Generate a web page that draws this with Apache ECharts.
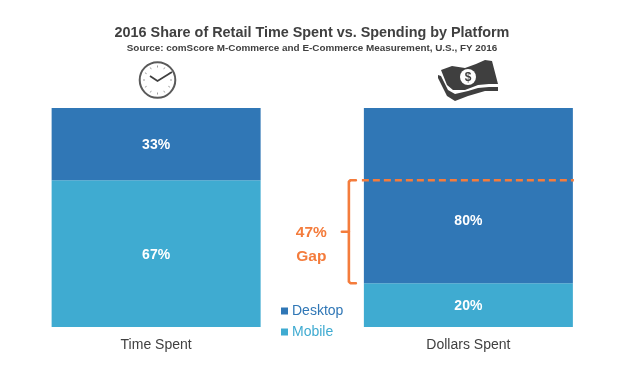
<!DOCTYPE html>
<html><head><meta charset="utf-8">
<style>html,body{margin:0;padding:0;background:#fff}#c{width:630px;height:377px}</style>
<script src="https://cdn.jsdelivr.net/npm/echarts@6/dist/echarts.min.js"></script>
</head><body><div id="c"></div>
<script>
const categories = ['Time Spent', 'Dollars Spent'];
const mobile = [67, 20];
const desktop = [33, 80];
const gapRange = [20, 67];
const gapLabel = ['47%', 'Gap'];
const titleText = '2016 Share of Retail Time Spent vs. Spending by Platform';
const subtitleText = 'Source: comScore M-Commerce and E-Commerce Measurement, U.S., FY 2016';

const ORANGE = '#F47C3C', DARK = '#404040', FF = '"Liberation Sans", Arial, sans-serif';
const chart = echarts.init(document.getElementById('c'), null, {renderer: 'canvas'});

function clockTicks(cx, cy) {
  const out = [];
  for (let i = 0; i < 12; i++) {
    const a = i * Math.PI / 6;
    out.push({type: 'line', shape: {
      x1: cx + Math.sin(a) * 12.5, y1: cy - Math.cos(a) * 12.5,
      x2: cx + Math.sin(a) * 14.5, y2: cy - Math.cos(a) * 14.5},
      style: {stroke: '#888', lineWidth: 0.8}});
  }
  return out;
}

const barLabel = {show: true, position: 'inside', offset: [0, 1.5], color: '#fff', fontFamily: FF, fontWeight: 'bold', fontSize: 14, formatter: '{c}%'};
const desktopData = desktop.map((v, i) => i === 1 ? {value: v, label: {offset: [0, 26]}} : v);

chart.setOption({
  animation: false,
  backgroundColor: '#fff',
  title: [
    {text: titleText, left: 307, textAlign: 'center', top: 21, textStyle: {fontFamily: FF, fontWeight: 'bold', fontSize: 14.4, color: DARK}},
    {text: subtitleText, left: 307, textAlign: 'center', top: 38, textStyle: {fontFamily: FF, fontWeight: 'bold', fontSize: 9.9, color: DARK}}
  ],
  grid: {left: -0.5, width: 625, top: 108, height: 219, containLabel: false},
  xAxis: {type: 'category', data: categories,
    axisLine: {show: false}, axisTick: {show: false},
    axisLabel: {color: DARK, fontFamily: FF, fontSize: 14, margin: 11}},
  yAxis: {type: 'value', min: 0, max: 100, show: false},
  legend: {
    data: ['Desktop', 'Mobile'], orient: 'vertical', left: 276, top: 299,
    itemWidth: 7, itemHeight: 7, itemGap: 7, icon: 'rect',
    selectedMode: false,
    textStyle: {fontFamily: FF, fontSize: 14, padding: [0, 0, 0, -1], color: 'inherit'}
  },
  series: [
    {name: 'Mobile', type: 'bar', stack: 'a', barWidth: 209, data: mobile,
      itemStyle: {color: '#3FABD1'}, label: barLabel},
    {name: 'Desktop', type: 'bar', stack: 'a', barWidth: 209, data: desktopData,
      itemStyle: {color: '#3077B6'}, label: barLabel},
    {name: 'gap', type: 'custom', silent: true, z: 5, clip: false,
      data: [[1, gapRange[0], gapRange[1]]],
      renderItem(params, api) {
        const cx = api.coord([api.value(0), 0])[0];
        const yB = api.coord([0, api.value(1)])[1];
        const yT = api.coord([0, api.value(2)])[1];
        const yM = (yB + yT) / 2;
        const barL = cx - 104.5, barR = cx + 104.5;
        const x = barL - 15;
        const st = {stroke: ORANGE, lineWidth: 2.6, fill: null, lineJoin: 'round', lineCap: 'round'};
        return {type: 'group', children: [
          {type: 'polyline', shape: {points: [[x + 7, yT], [x + 1.5, yT], [x, yT + 1.5], [x, yB - 1.5], [x + 1.5, yB], [x + 7, yB]]}, style: st},
          {type: 'line', shape: {x1: x - 7, y1: yM, x2: x, y2: yM}, style: st},
          {type: 'line', shape: {x1: barL - 2, y1: yT, x2: barR + 1, y2: yT},
            style: {stroke: ORANGE, lineWidth: 2.6, lineDash: [7, 4]}},
          {type: 'text', style: {text: gapLabel[0], x: x - 37.5, y: yM + 1, align: 'center', verticalAlign: 'middle',
            fill: ORANGE, font: 'bold 15.5px ' + FF}},
          {type: 'text', style: {text: gapLabel[1], x: x - 37.5, y: yM + 25, align: 'center', verticalAlign: 'middle',
            fill: ORANGE, font: 'bold 15.5px ' + FF}}
        ]};
      }}
  ],
  graphic: [
    {type: 'circle', shape: {cx: 157.5, cy: 80, r: 17.8}, style: {fill: '#fff', stroke: '#5a5a5a', lineWidth: 2}},
    ...clockTicks(157.5, 80),
    {type: 'polyline', shape: {points: [[150, 76], [157.5, 81], [172, 72]]}, style: {stroke: '#404040', lineWidth: 1.8, fill: null}},
    {type: 'polygon', shape: {points: [[438, 75], [441, 76], [448, 90], [455, 94], [468, 91], [478, 88], [489, 87], [498, 87], [498, 91], [485, 91], [468, 96], [455, 101], [447, 96], [438, 78]]},
      style: {fill: '#3f3f3f'}},
    {type: 'polygon', shape: {points: [[441, 70], [452, 66], [465, 68], [476, 64], [485, 60], [492, 61], [498, 84], [489, 84], [478, 85], [465, 90], [453, 90], [447, 85]]},
      style: {fill: '#3f3f3f'}},
    {type: 'circle', shape: {cx: 468, cy: 77, r: 8}, style: {fill: '#fff'}},
    {type: 'text', style: {text: '$', x: 468, y: 77.5, align: 'center', verticalAlign: 'middle', fill: '#3f3f3f', font: 'bold 12px ' + FF}}
  ]
});
</script></body></html>
